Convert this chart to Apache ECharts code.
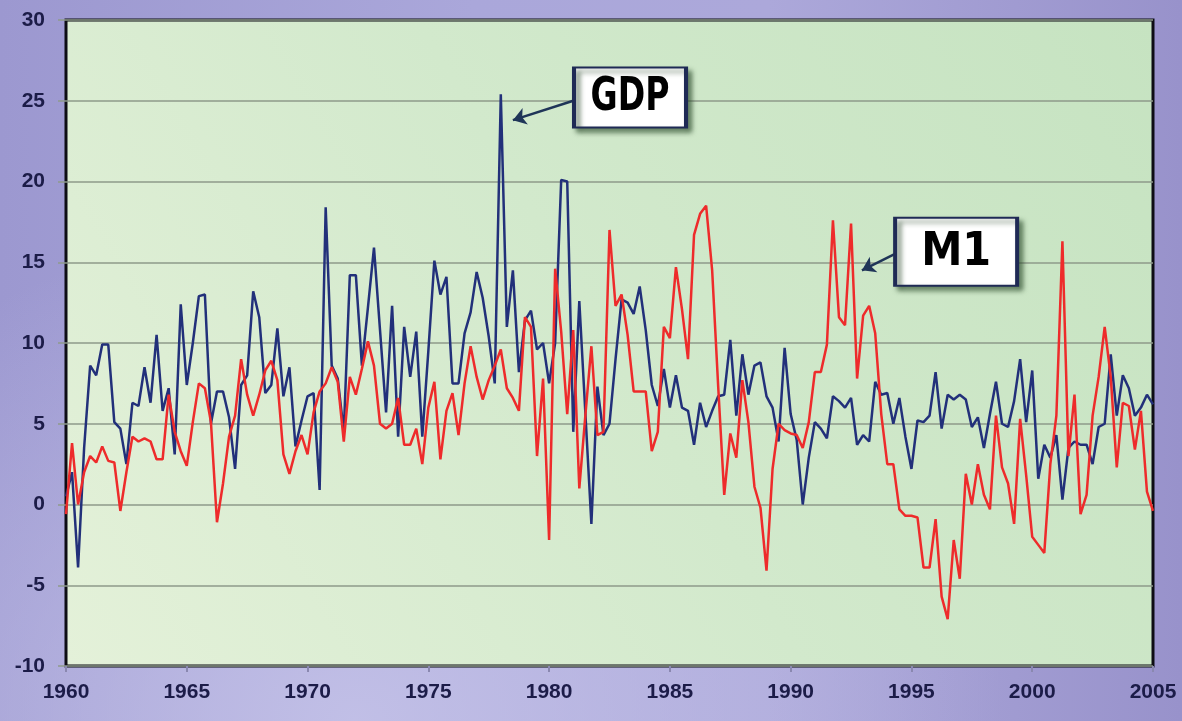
<!DOCTYPE html>
<html><head><meta charset="utf-8">
<script src="https://cdn.jsdelivr.net/npm/echarts@6/dist/echarts.min.js"></script>
<style>
html,body{margin:0;padding:0;}
#c{width:1182px;height:721px;
background:radial-gradient(ellipse 55% 70% at 30% 100%, rgba(196,194,232,0.9) 0%, rgba(196,194,232,0) 100%),
linear-gradient(90deg,#9c98d0 0%,#aaa7da 40%,#aca8da 65%,#9892cb 100%);}
</style></head><body><div id="c"></div>
<script>
// Quarterly growth rates, 1960Q1 .. 2005Q1
const startYear = 1960;
const yearTicks = [1960,1965,1970,1975,1980,1985,1990,1995,2000,2005];
const yTicks = [-10,-5,0,5,10,15,20,25,30];
const gdp = [
0.5,2.0,-3.9,3.5,8.6,8.0,9.9,9.9,5.1,4.7,
2.5,6.3,6.1,8.5,6.3,10.5,5.8,7.2,3.1,12.4,
7.4,10.0,12.9,13.0,5.0,7.0,7.0,5.4,2.2,7.4,
8.0,13.2,11.6,6.9,7.4,10.9,6.7,8.5,3.6,5.2,
6.7,6.9,0.9,18.4,8.6,7.8,4.5,14.2,14.2,8.6,
12.2,15.9,10.8,5.7,12.3,4.2,11.0,7.9,10.7,4.2,
9.5,15.1,13.0,14.1,7.5,7.5,10.6,11.9,14.4,12.8,
10.4,7.5,25.4,11.0,14.5,8.2,11.4,12.0,9.6,10.0,
7.5,10.0,20.1,20.0,4.5,12.6,5.7,-1.2,7.3,4.3,
5.0,9.0,12.7,12.5,11.8,13.5,10.8,7.4,6.1,8.4,
6.0,8.0,6.0,5.8,3.7,6.3,4.8,5.8,6.7,6.8,
10.2,5.5,9.3,6.8,8.6,8.8,6.7,6.0,3.9,9.7,
5.6,4.0,0.0,2.9,5.1,4.7,4.1,6.7,6.4,6.0,
6.6,3.7,4.3,3.9,7.6,6.8,6.9,5.0,6.6,4.2,
2.2,5.2,5.1,5.5,8.2,4.7,6.8,6.5,6.8,6.5,
4.8,5.4,3.5,5.6,7.6,5.0,4.8,6.4,9.0,5.1,
8.3,1.6,3.7,2.9,4.3,0.3,3.5,3.9,3.7,3.7,
2.5,4.8,5.0,9.3,5.5,8.0,7.2,5.5,6.0,6.8,
6.2];
const m1 = [
-0.6,3.8,0.0,2.0,3.0,2.6,3.6,2.7,2.6,-0.4,
2.0,4.2,3.9,4.1,3.9,2.8,2.8,6.8,4.5,3.3,
2.4,5.1,7.5,7.2,5.1,-1.1,1.3,4.2,5.5,9.0,
6.8,5.5,6.8,8.3,8.9,7.7,3.1,1.9,3.3,4.3,
3.1,5.7,7.0,7.5,8.5,7.6,3.9,7.9,6.8,8.4,
10.1,8.6,5.0,4.7,5.0,6.6,3.7,3.7,4.7,2.5,
6.0,7.6,2.8,5.8,6.9,4.3,7.5,9.8,7.9,6.5,
7.7,8.6,9.6,7.2,6.6,5.8,11.6,11.0,3.0,7.8,
-2.2,14.6,10.7,5.6,10.8,1.0,5.5,9.8,4.3,4.5,
17.0,12.3,13.0,10.5,7.0,7.0,7.0,3.3,4.5,11.0,
10.3,14.7,12.1,9.0,16.7,18.0,18.5,14.5,7.3,0.6,
4.4,2.9,7.7,5.1,1.1,-0.2,-4.1,2.2,5.0,4.6,
4.4,4.3,3.5,5.1,8.2,8.2,9.9,17.6,11.6,11.1,
17.4,7.8,11.7,12.3,10.6,5.6,2.5,2.5,-0.3,-0.7,
-0.7,-0.8,-3.9,-3.9,-0.9,-5.7,-7.1,-2.2,-4.6,1.9,
0.0,2.5,0.6,-0.3,5.5,2.3,1.3,-1.2,5.3,1.8,
-2.0,-2.5,-3.0,2.5,5.5,16.3,3.0,6.8,-0.6,0.6,
5.5,7.9,11.0,7.9,2.3,6.3,6.1,3.4,5.8,0.8,
-0.4];
// Annotation anchors in data coordinates: [year, value]
const gdpBox = [1983.35, 25.2], gdpArrowFrom = [1981.0, 25.0], gdpArrowTo = [1978.5, 23.8];
const m1Box = [1996.85, 15.65], m1ArrowFrom = [1994.3, 15.5], m1ArrowTo = [1992.95, 14.5];

const toPairs = arr => arr.map((v, i) => [startYear + i / 4, v]);
const labelFont = "'Liberation Sans', Arial, sans-serif";
const navy = '#1c1c48';

function boxPoint(coord, w, h) {
  return {
    coord: coord, symbol: 'rect', symbolSize: [w, h],
    itemStyle: { color: '#ffffff', borderColor: '#1f2a55', borderWidth: 3,
      shadowBlur: 5, shadowOffsetX: 4, shadowOffsetY: 4, shadowColor: 'rgba(40,70,40,0.65)' },
    label: { show: false }
  };
}

const chart = echarts.init(document.getElementById('c'), null, { renderer: 'canvas' });
chart.setOption({
  animation: false,
  backgroundColor: 'transparent',
  grid: { left: 66, right: 29, top: 20, bottom: 55, show: true,
    borderColor: '#0d0d14', borderWidth: 3,
    backgroundColor: new echarts.graphic.LinearGradient(0, 1, 1, 0, [
      { offset: 0, color: '#e4f1d9' }, { offset: 0.5, color: '#d2e9cc' }, { offset: 1, color: '#c6e3c1' }]) },
  xAxis: { type: 'value', min: yearTicks[0], max: yearTicks[yearTicks.length - 1], interval: 5,
    axisLine: { show: false, onZero: false }, splitLine: { show: false },
    axisTick: { show: true, length: 6, lineStyle: { color: '#8a88b0', width: 2 } },
    axisLabel: { color: navy, fontFamily: labelFont, fontWeight: 'bold', fontSize: 21, margin: 16,
      formatter: v => String(v) } },
  yAxis: { type: 'value', min: yTicks[0], max: yTicks[yTicks.length - 1], interval: 5,
    axisLine: { show: false },
    axisTick: { show: true, length: 8, lineStyle: { color: '#8f9a8c', width: 1.5 } },
    splitLine: { show: true, lineStyle: { color: '#8e9a8a', width: 1.5 } },
    axisLabel: { color: navy, fontFamily: labelFont, fontWeight: 'bold', fontSize: 21, margin: 21 } },
  series: [
    { name: 'GDP', type: 'line', data: toPairs(gdp), showSymbol: false, z: 3,
      lineStyle: { color: '#22307a', width: 2.5 }, itemStyle: { color: '#22307a' },
      markLine: { silent: true, symbol: ['none', 'arrow'], symbolSize: 13,
        lineStyle: { color: '#1f3558', width: 2.5, type: 'solid' }, label: { show: false },
        data: [[{ coord: gdpArrowFrom }, { coord: gdpArrowTo }]] },
      markPoint: { silent: true, data: [boxPoint(gdpBox, 112, 60)] } },
    { name: 'M1', type: 'line', data: toPairs(m1), showSymbol: false, z: 4,
      lineStyle: { color: '#ee2b2b', width: 2.5 }, itemStyle: { color: '#ee2b2b' },
      markLine: { silent: true, symbol: ['none', 'arrow'], symbolSize: 13,
        lineStyle: { color: '#1f3558', width: 2.5, type: 'solid' }, label: { show: false },
        data: [[{ coord: m1ArrowFrom }, { coord: m1ArrowTo }]] },
      markPoint: { silent: true, data: [boxPoint(m1Box, 122, 68)] } }
  ]
});

// Condensed heavy box captions, anchored to the box data coordinates
const captions = [
  { text: 'GDP', at: gdpBox, scaleX: 0.72 },
  { text: 'M1', at: m1Box, scaleX: 0.9 }
];
chart.setOption({
  graphic: captions.map(c => {
    const p = chart.convertToPixel({ seriesIndex: 0 }, c.at);
    return { type: 'text', x: p[0], y: p[1] + 1, scaleX: c.scaleX, z: 100, silent: true,
      style: { text: c.text, fill: '#000', textAlign: 'center', textVerticalAlign: 'middle',
        font: "bold 46px 'DejaVu Sans', sans-serif" } };
  })
});
</script></body></html>
